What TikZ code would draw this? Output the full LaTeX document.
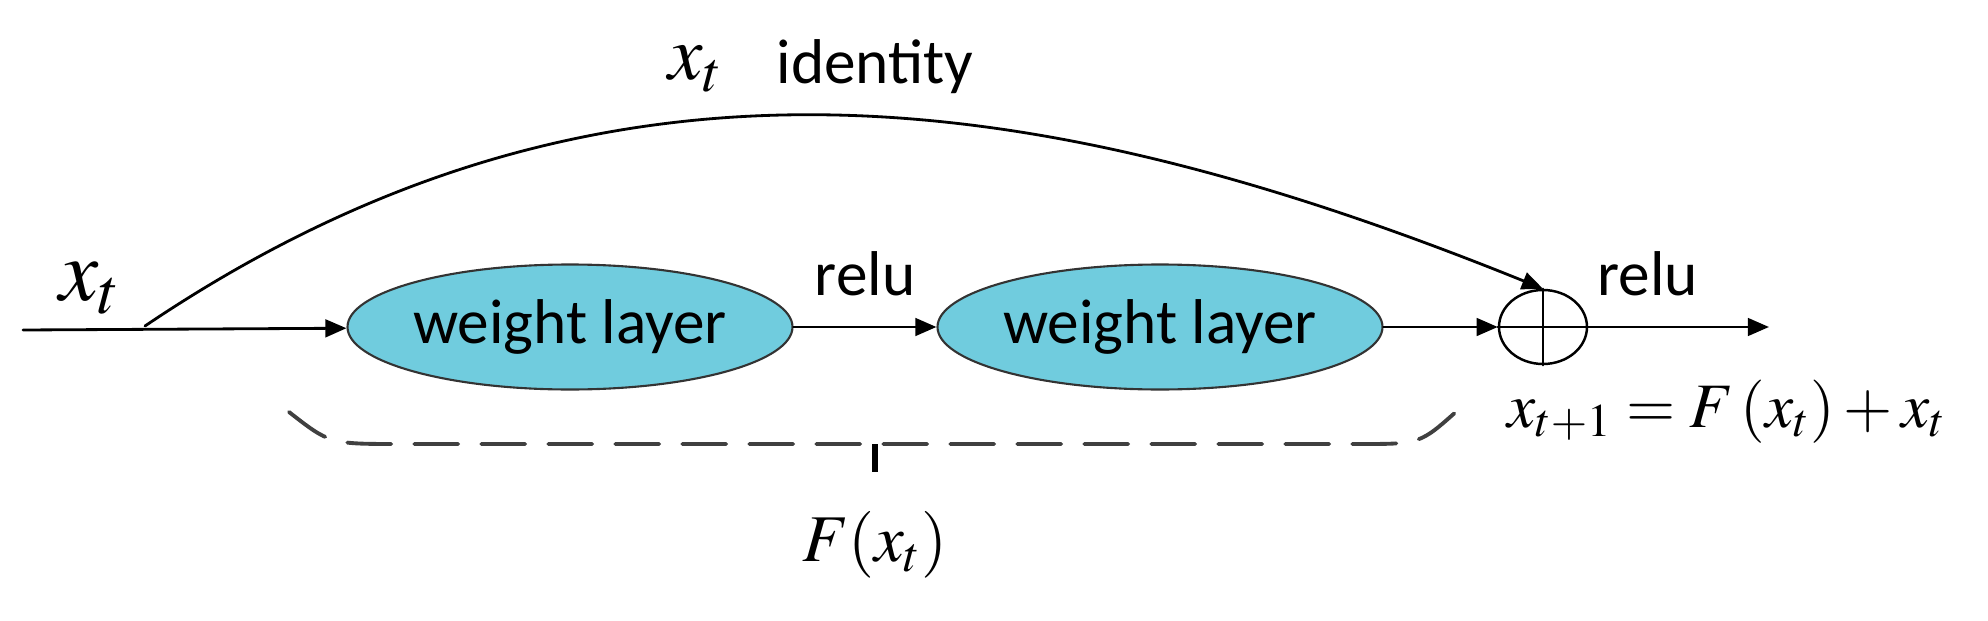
\documentclass[tikz,border=0pt]{standalone}
\usepackage{mathptmx}
\usepackage{fontspec}
\setmainfont{Carlito}
\usepackage{tikz}
\usetikzlibrary{arrows.meta, calc, positioning, shapes.geometric}
\definecolor{layercyan}{RGB}{112, 204, 222}

\begin{document}
\begin{tikzpicture}[line cap=round, line join=round, >={Triangle[length=6pt,width=5pt]},
	layer/.style={ellipse, draw=black!80, line width=0.6pt, fill=layercyan, inner xsep=0pt, inner ysep=2pt, minimum width=4.45cm, minimum height=1.25cm, font=\fontsize{18}{22}\selectfont},
	lbl/.style={font=\fontsize{18}{22}\selectfont, inner sep=0pt},
	mlbl/.style={font=\fontsize{19}{23}\selectfont, inner sep=0pt},
	flow/.style={->, line width=0.8pt}]

		\useasboundingbox (0,0) rectangle (19.88,6.2);

		% input, layers and the sum
		\coordinate (in) at (0.23,2.90);
		\coordinate (split) at (1.45,2.94);
		\node[layer] (wl1) at (5.70,2.93) {weight layer};
		\node[layer] (wl2) at (11.60,2.93) {weight layer};
		\node[ellipse, draw, line width=0.7pt, minimum width=0.88cm, minimum height=0.74cm, inner sep=0pt] (sum) at (15.43,2.93) {};
		\coordinate (out) at (17.69,2.93);

		\draw [flow] (in)--(wl1);
		\draw [flow] (wl1)--(wl2) node[lbl,midway,above=0.30cm] (relu1) {relu};
		\draw [flow] (wl2)--(sum);
		\draw [flow] (sum)--(out) node[lbl,pos=0.33,above=0.30cm] (relu2) {relu};
		\draw [line width=0.7pt] (sum.north)--(sum.south);
		\draw [line width=0.7pt] (sum.west)--(sum.east);

		% shortcut
		\draw [flow] (split) to[out=34,in=158] (sum.north);

		% labels
		\node[mlbl,font=\fontsize{25}{28}\selectfont,anchor=base] (xin) at (0.90,3.20) {$x_t$};
		\node[mlbl,font=\fontsize{22}{26}\selectfont,anchor=base] (xid) at (6.96,5.40) {$x_t$};
		\node[lbl,anchor=base] (ident) at (8.75,5.37) {identity};
		\node[mlbl,font=\fontsize{18}{22}\selectfont,anchor=base] (eq) at (17.27,1.93) {$x_{t+1} = F\,(x_t) + x_t$};

		% residual brace
		\coordinate (br) at (8.75,1.76);
		\draw [dashed,black!75,line width=1.1pt,dash pattern=on 0.44cm off 0.23cm] (2.89,2.08) .. controls (3.3,1.76) .. (4.0,1.76) -- (13.6,1.76) .. controls (14.2,1.76) .. (14.58,2.10);
		\node[mlbl] (fx) at (8.75,0.75) {$F(x_t)$};
		\draw [line width=1.6pt,line cap=butt] (br)--++(0,-0.28);
\end{tikzpicture}
\end{document}
